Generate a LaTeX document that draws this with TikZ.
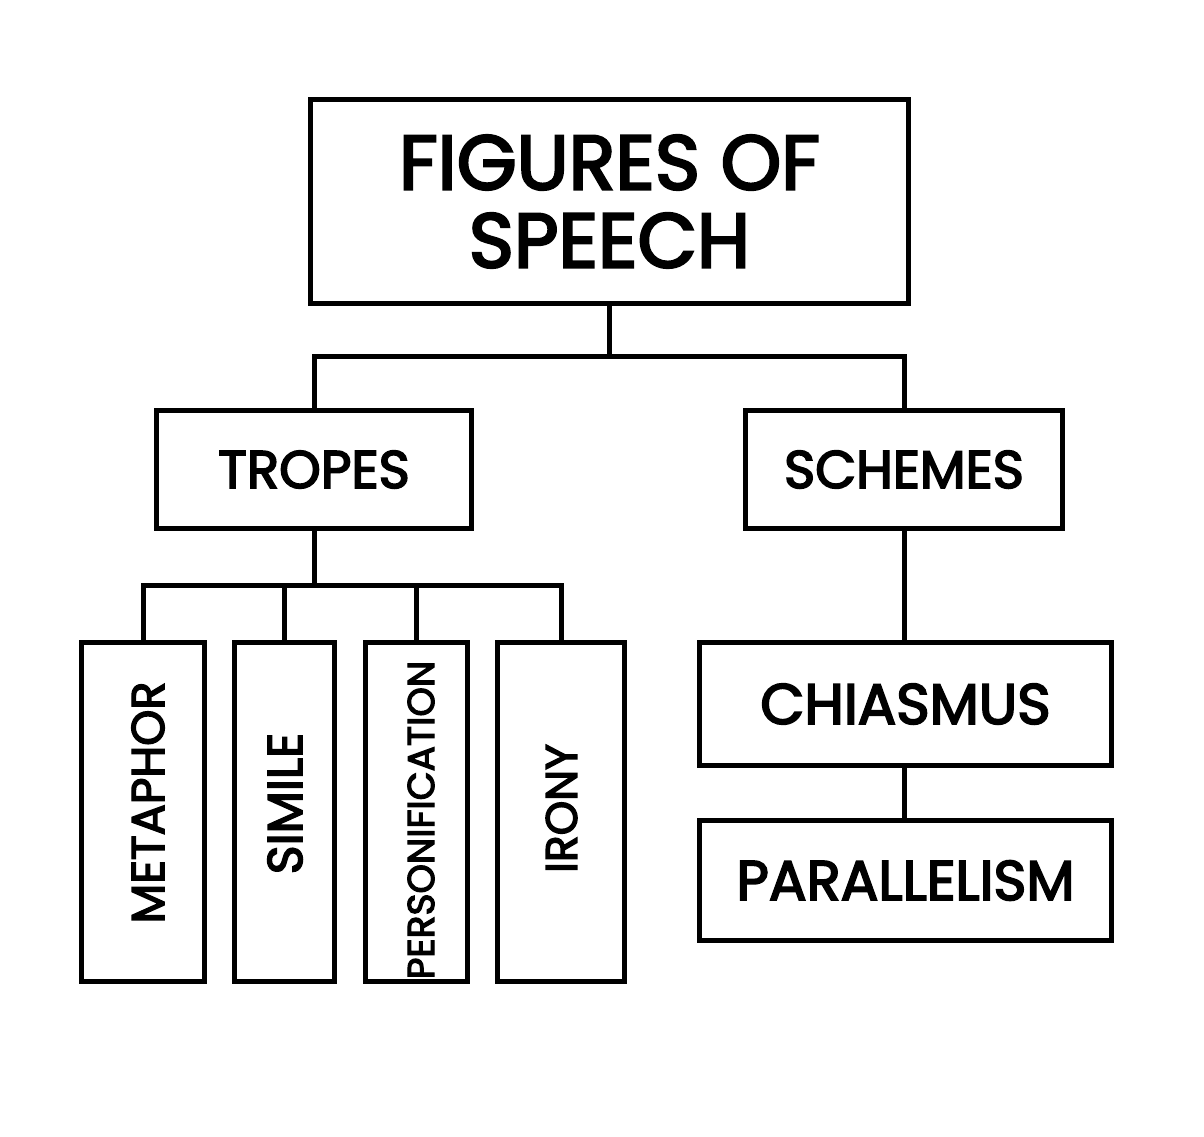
\documentclass[tikz,border=0pt]{standalone}
\usepackage{fontspec}
\setmainfont{Poppins}
\newfontfamily\medfont{Poppins}[FakeBold=3.2]
\begin{document}
\begin{tikzpicture}[x=1pt,y=-1pt,
  box/.style={draw=black, line width=5.5pt, inner sep=0pt, align=center, text=black},
  lbl/.style={rotate=90, text=black, inner sep=0pt},
  conn/.style={draw=black, line width=5pt}]
\useasboundingbox[fill=white] (0,0) rectangle (1204,1136);
\node[box, minimum width=598pt, minimum height=204pt, font=\medfont\fontsize{77}{78}\selectfont] (title) at (609.5,201.5) {FIGURES OF\\SPEECH};
\node[box, minimum width=315pt, minimum height=118pt, font=\medfont\fontsize{53}{56}\selectfont] (tropes) at (314,469.5) {TROPES};
\node[box, minimum width=317pt, minimum height=118pt, font=\medfont\fontsize{53}{56}\selectfont] (schemes) at (904,469.5) {SCHEMES};
\node[box, minimum width=123pt, minimum height=339pt] (metaphor) at (143,812) {};
\node[box, minimum width=100pt, minimum height=339pt] (simile) at (284.5,812) {};
\node[box, minimum width=102pt, minimum height=339pt] (person) at (416.5,812) {};
\node[box, minimum width=127pt, minimum height=339pt] (irony) at (561,812) {};
\node[lbl, font=\medfont\fontsize{46}{50}\selectfont] (tmetaphor) at (148,802.5) {METAPHOR};
\node[lbl, font=\medfont\fontsize{49}{50}\selectfont] (tsimile) at (285,803.5) {SIMILE};
\node[lbl, font=\medfont\fontsize{37.5}{50}\selectfont] (tperson) at (421,820) {PERSONIFICATION};
\node[lbl, font=\medfont\fontsize{44}{50}\selectfont] (tirony) at (561.5,808.5) {IRONY};
\node[box, minimum width=412pt, minimum height=123pt, font=\medfont\fontsize{57}{60}\selectfont] (chiasmus) at (905.5,704) {CHIASMUS};
\node[box, minimum width=412pt, minimum height=120pt, font=\medfont\fontsize{56}{60}\selectfont] (parallel) at (905.5,880.5) {PARALLELISM};
\coordinate (bar1) at (0,356);
\coordinate (bar2) at (0,585);
\draw[conn] (title.south) -- (title.south |- bar1);
\draw[conn] (tropes.north) |- (bar1 -| schemes.north) -- (schemes.north);
\draw[conn] (tropes.south) -- (tropes.south |- bar2);
\draw[conn] (metaphor.north) |- (bar2 -| irony.north) -- (irony.north);
\draw[conn] (simile.north) -- (simile.north |- bar2);
\draw[conn] (person.north) -- (person.north |- bar2);
\draw[conn] (schemes.south) -- (schemes.south |- chiasmus.north);
\draw[conn] (schemes.south |- chiasmus.south) -- (schemes.south |- parallel.north);
\end{tikzpicture}
\end{document}
